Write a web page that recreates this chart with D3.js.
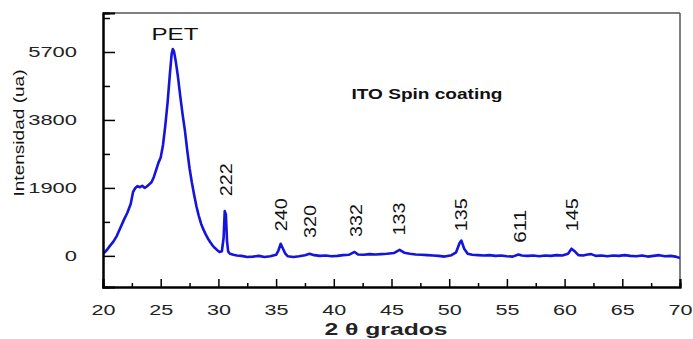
<!DOCTYPE html>
<html><head><meta charset="utf-8">
<script src="https://cdn.jsdelivr.net/npm/d3@7"></script>
<style>body{margin:0;background:#fff}svg{display:block}text{font-family:Arial,"Liberation Sans",sans-serif}</style>
</head><body>
<script>
const twoTheta = [20.0,20.3,20.6,20.9,21.2,21.5,21.8,22.1,22.4,22.6,22.8,23.0,23.2,23.4,23.6,23.8,24.0,24.2,24.4,24.6,24.8,25.0,25.2,25.4,25.6,25.8,25.95,26.05,26.15,26.3,26.5,26.7,26.9,27.1,27.3,27.5,27.7,27.9,28.1,28.3,28.5,28.7,28.9,29.1,29.3,29.5,29.7,29.9,30.1,30.3,30.45,30.55,30.65,30.75,30.85,31.0,31.3,31.6,32.0,32.5,33.0,33.5,34.0,34.5,35.0,35.2,35.4,35.6,35.8,36.0,36.5,37.0,37.5,37.9,38.3,38.8,39.3,39.8,40.3,40.8,41.3,41.8,42.1,42.6,43.1,43.6,44.1,44.6,45.2,45.7,46.1,46.6,47.1,47.6,48.1,48.6,49.1,49.6,50.2,50.6,50.9,51.05,51.3,51.6,52.0,52.5,53.0,53.5,54.0,54.5,55.0,55.5,56.0,56.3,56.8,57.3,57.8,58.3,58.8,59.3,59.8,60.3,60.6,60.9,61.2,61.6,62.0,62.3,62.7,63.2,63.7,64.2,64.7,65.2,65.7,66.2,66.7,67.2,67.7,68.2,68.7,69.2,69.6,70.0];
const intensity = [60,150,280,400,560,780,1000,1200,1450,1780,1900,1950,1920,1960,1900,1940,2000,2060,2200,2400,2600,2750,3100,3650,4300,5100,5650,5780,5720,5450,5000,4450,3950,3500,2950,2450,2050,1700,1380,1120,900,740,600,480,380,290,220,160,110,130,500,1250,1150,400,120,60,30,10,0,-30,-20,0,-30,-10,30,150,340,200,60,-10,-30,-10,20,60,20,0,10,-10,0,20,30,110,40,30,50,40,50,60,80,170,90,60,40,30,20,10,0,-20,20,100,360,430,200,60,30,20,10,20,0,10,-10,-20,40,10,0,10,-10,10,0,20,10,60,200,120,20,10,40,50,0,10,-10,10,0,20,0,-10,10,-20,0,20,-10,0,-20,-60];
const xTicks = [20,25,30,35,40,45,50,55,60,65,70];
const xMinor = [22.5,27.5,32.5,37.5,42.5,47.5,52.5,57.5,62.5,67.5];
const yTicks = [0,1900,3800,5700];
const yMinor = [950,2850,4750,6650];
const peakLabels = ["222","240","320","332","133","135","611","145"];
const peakX = [30.65,35.4,37.9,41.9,45.6,51.0,56.1,60.6];
const peakY = [1670,690,500,530,570,690,370,690];

const W=693,H=339;
const svg=d3.select("body").append("svg").attr("width",W).attr("height",H);
const x=d3.scaleLinear().domain([20,70]).range([103,680]);
const y=d3.scaleLinear().domain([-870,6790]).range([287,13]);

svg.append("defs").append("clipPath").attr("id","c").append("rect")
  .attr("x",103).attr("y",13).attr("width",577).attr("height",274);

svg.append("line").attr("x1",103).attr("x2",680).attr("y1",13).attr("y2",13).attr("stroke","#555").attr("stroke-width",1.5);
svg.append("line").attr("x1",680).attr("x2",680).attr("y1",13).attr("y2",287).attr("stroke","#555").attr("stroke-width",1.5);

const pts=twoTheta.map((t,i)=>[t,intensity[i]]);
svg.append("path").datum(pts).attr("clip-path","url(#c)")
  .attr("fill","none").attr("stroke","#1414dc").attr("stroke-width",2.6).attr("stroke-linejoin","round")
  .attr("d",d3.line().x(d=>x(d[0])).y(d=>y(d[1])));

const xAxis=svg.append("g").attr("transform","translate(0,287)")
  .call(d3.axisBottom(x).tickValues(xTicks).tickSize(-8).tickPadding(17).tickFormat(d3.format("d")));
const xMin=svg.append("g").attr("transform","translate(0,287)")
  .call(d3.axisBottom(x).tickValues(xMinor).tickSize(-4).tickFormat(""));
const yAxis=svg.append("g").attr("transform","translate(103,0)")
  .call(d3.axisLeft(y).tickValues(yTicks).tickSize(-12).tickPadding(26).tickFormat(d3.format("d")));
const yMin=svg.append("g").attr("transform","translate(103,0)")
  .call(d3.axisLeft(y).tickValues(yMinor).tickSize(-7).tickFormat(""));
[xAxis,xMin,yAxis,yMin].forEach(g=>{
  g.select(".domain").attr("stroke","#000").attr("stroke-width",2);
  g.selectAll(".tick line").attr("stroke","#000").attr("stroke-width",1.5);
});
xAxis.selectAll(".tick text").attr("font-size",15).attr("fill","#222")
  .attr("textLength",24).attr("lengthAdjust","spacingAndGlyphs");
yAxis.selectAll(".tick text").attr("font-size",15).attr("fill","#222")
  .each(function(d){const s=String(d).length; d3.select(this).attr("textLength",s*12.2).attr("lengthAdjust","spacingAndGlyphs");});

svg.append("text").attr("x",386).attr("y",335).attr("text-anchor","middle")
  .attr("font-size",16).attr("font-weight","bold").attr("fill","#222")
  .attr("textLength",123).attr("lengthAdjust","spacingAndGlyphs").text("2 θ grados");
svg.append("text").attr("transform","translate(19,133) rotate(-90)").attr("text-anchor","middle")
  .attr("dy","0.35em").attr("font-size",14).attr("fill","#111")
  .attr("textLength",127).attr("lengthAdjust","spacingAndGlyphs").text("Intensidad (ua)");

svg.append("text").attr("x",175).attr("y",40).attr("text-anchor","middle")
  .attr("font-size",17).attr("fill","#111").attr("textLength",47).attr("lengthAdjust","spacingAndGlyphs").text("PET");
svg.append("text").attr("x",427).attr("y",99).attr("text-anchor","middle")
  .attr("font-size",14).attr("font-weight","bold").attr("fill","#111")
  .attr("textLength",151).attr("lengthAdjust","spacingAndGlyphs").text("ITO Spin coating");

svg.selectAll(".pk").data(peakLabels).enter().append("text")
  .attr("transform",(d,i)=>`translate(${x(peakX[i])},${y(peakY[i])}) rotate(-90)`)
  .attr("dy","0.36em").attr("font-size",17).attr("fill","#111")
  .attr("textLength",33).attr("lengthAdjust","spacingAndGlyphs").text(d=>d);
</script>
</body></html>
